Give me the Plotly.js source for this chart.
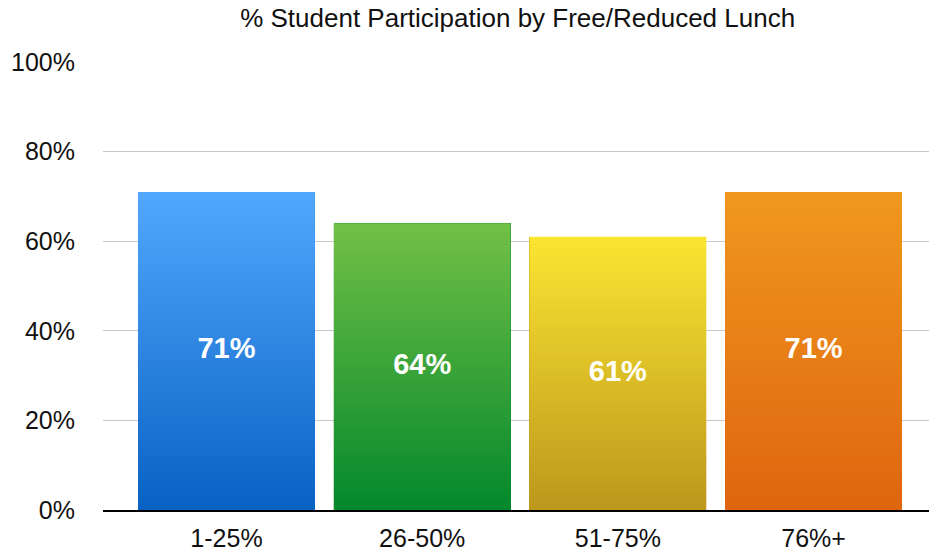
<!DOCTYPE html>
<html>
<head>
<meta charset="utf-8">
<script src="https://cdn.plot.ly/plotly-3.0.1.min.js"></script>
<style>html,body{margin:0;padding:0;background:#fff}#chart{width:929px;height:552px}</style>
</head>
<body>
<div id="chart"></div>
<script>
var categories = ["1-25%", "26-50%", "51-75%", "76%+"];
var participation = [71, 64, 61, 71];
var topColors = ["#52a8fd", "#72c046", "#fce532", "#f0981e"];
var bottomColors = ["#0862c4", "#03882c", "#bc971c", "#df650f"];
var yTickVals = [0, 20, 40, 60, 80, 100];
var yTickText = ["0%", "20%", "40%", "60%", "80%", "100%"];

var idx = categories.map(function (c, i) { return i; });
var halfW = 0.452;
var traces = [];

// base bars (solid colour, fallback under the gradient)
traces.push({
  type: "bar",
  x: idx,
  y: participation,
  width: halfW * 2,
  marker: { color: bottomColors, line: { width: 0 } },
  hoverinfo: "skip",
  showlegend: false
});

// gradient overlays built from the data
participation.forEach(function (v, i) {
  traces.push({
    type: "scatter",
    mode: "none",
    x: [i - halfW, i + halfW, i + halfW, i - halfW, i - halfW],
    y: [0, 0, v, v, 0],
    fill: "toself",
    fillcolor: topColors[i],
    fillgradient: {
      type: "vertical",
      colorscale: [[0, bottomColors[i]], [1, topColors[i]]],
      start: 0,
      stop: v
    },
    hoverinfo: "skip",
    showlegend: false
  });
});

// value labels
traces.push({
  type: "scatter",
  mode: "text",
  x: idx,
  y: participation.map(function (v) { return v / 2; }),
  text: participation.map(function (v) { return "<b>" + v + "%</b>"; }),
  textfont: { family: "'Liberation Sans Narrow', 'Liberation Sans', Arial, sans-serif", size: 29, color: "#ffffff" },
  hoverinfo: "skip",
  showlegend: false
});

var layout = {
  width: 929,
  height: 552,
  margin: { l: 103, r: 0, t: 62, b: 42, pad: 0 },
  paper_bgcolor: "#ffffff",
  plot_bgcolor: "#ffffff",
  font: { family: "'Liberation Sans', Arial, Helvetica, sans-serif", color: "#000000" },
  title: {
    text: "% Student Participation by Free/Reduced Lunch",
    font: { size: 26, color: "#111111" },
    x: 0.502, xanchor: "center", xref: "paper",
    y: 0.968, yanchor: "middle"
  },
  showlegend: false,
  bargap: 0,
  xaxis: {
    type: "linear",
    range: [-0.631, 3.59],
    tickmode: "array",
    tickvals: idx,
    ticktext: categories,
    showgrid: false,
    zeroline: false,
    showline: true,
    linecolor: "#000000",
    linewidth: 2,
    ticks: "",
    ticklabelstandoff: 5,
    tickfont: { size: 25, color: "#111111" },
    fixedrange: true
  },
  yaxis: {
    range: [0, 100],
    tickmode: "array",
    tickvals: yTickVals,
    ticktext: yTickText,
    showgrid: true,
    gridcolor: "#c8c8c8",
    gridwidth: 1,
    zeroline: false,
    showline: false,
    ticks: "",
    ticklabelstandoff: 27,
    tickfont: { size: 25, color: "#111111" },
    fixedrange: true
  }
};

Plotly.newPlot("chart", traces, layout, { displayModeBar: false, staticPlot: true });
</script>
</body>
</html>
